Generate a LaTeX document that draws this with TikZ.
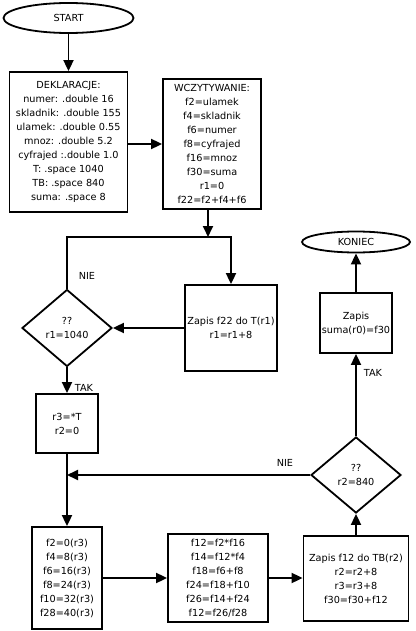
\documentclass[tikz,border=0pt]{standalone}
\usepackage{fontspec}
\setmainfont{DejaVu Sans}
\usetikzlibrary{shapes.geometric,arrows.meta}
\begin{document}
\begin{tikzpicture}[x=1pt,y=-1pt,
  every node/.style={font=\fontsize{9.7}{14}\selectfont, align=center, inner sep=1pt},
  box/.style={draw, line width=1.8pt, rectangle},
  oval/.style={draw, line width=1.8pt, ellipse},
  cond/.style={draw, line width=1.8pt, diamond},
  flow/.style={line width=1.8pt, -{Triangle[width=10pt,length=11pt]}},
  lbl/.style={font=\fontsize{9.7}{12}\selectfont}]
\useasboundingbox (0,0) rectangle (415,631);
\node[oval, minimum width=130pt, minimum height=30pt] (start) at (68.5,18) {START};
\node[box, minimum width=118pt, minimum height=140pt] (dek) at (68.5,142)
  {DEKLARACJE:\\numer: .double 16\\skladnik: .double 155\\ulamek: .double 0.55\\mnoz: .double 5.2\\cyfrajed :.double 1.0\\T: .space 1040\\TB: .space 840\\suma: .space 8};
\node[box, minimum width=98pt, minimum height=130pt] (wcz) at (212,144)
  {WCZYTYWANIE:\\f2=ulamek\\f4=skladnik\\f6=numer\\f8=cyfrajed\\f16=mnoz\\f30=suma\\r1=0\\f22=f2+f4+f6};
\node[box, minimum width=92pt, minimum height=86pt] (zap1) at (231,328)
  {Zapis f22 do T(r1)\\r1=r1+8};
\node[cond, minimum width=90pt, minimum height=77pt, inner sep=0pt] (d1) at (67,328)
  {??\\r1=1040};
\node[box, minimum width=62pt, minimum height=59pt] (r3) at (67,423.5)
  {r3=*T\\r2=0};
\node[box, minimum width=70pt, minimum height=102pt] (f2) at (67,578)
  {f2=0(r3)\\f4=8(r3)\\f6=16(r3)\\f8=24(r3)\\f10=32(r3)\\f28=40(r3)};
\node[box, minimum width=100pt, minimum height=88pt] (f12) at (218,578)
  {f12=f2*f16\\f14=f12*f4\\f18=f6+f8\\f24=f18+f10\\f26=f14+f24\\f12=f26/f28};
\node[box, minimum width=105pt, minimum height=85pt] (ztb) at (356,578.5)
  {Zapis f12 do TB(r2)\\r2=r2+8\\r3=r3+8\\f30=f30+f12};
\node[cond, minimum width=90pt, minimum height=76pt, inner sep=0pt] (d2) at (356,475)
  {??\\r2=840};
\node[box, minimum width=72pt, minimum height=60pt] (suma) at (356,323)
  {Zapis\\suma(r0)=f30};
\node[oval, minimum width=108pt, minimum height=21pt, inner sep=0pt] (kon) at (356,242) {KONIEC};
\coordinate (j1) at (208,237);
\node[lbl] (nie1) at (87,276) {NIE};
\node[lbl] (tak1) at (84,388) {TAK};
\node[lbl] (nie2) at (285,463) {NIE};
\node[lbl] (tak2) at (373,373) {TAK};
\draw[flow] (start) -- (dek);
\draw[flow] (dek.east |- 0,144) -- (wcz.west |- 0,144);
\draw[flow] (wcz.south -| j1) -- (j1);
\draw[flow] (d1.north) -- (d1.north |- j1) -- (zap1.north |- j1) -- (zap1.north);
\draw[flow] (zap1.west) -- (d1.east);
\draw[flow] (d1.south) -- (r3.north);
\draw[flow] (r3.south) -- (f2.north);
\draw[flow] (d2.west) -- (d2.west -| r3.south);
\draw[flow] (f2.east) -- (f12.west);
\draw[flow] (f12.east) -- (ztb.west |- f12.east);
\draw[flow] (ztb.north) -- (d2.south);
\draw[flow] (d2.north) -- (suma.south);
\draw[flow] (suma.north) -- (kon.south);
\end{tikzpicture}
\end{document}
